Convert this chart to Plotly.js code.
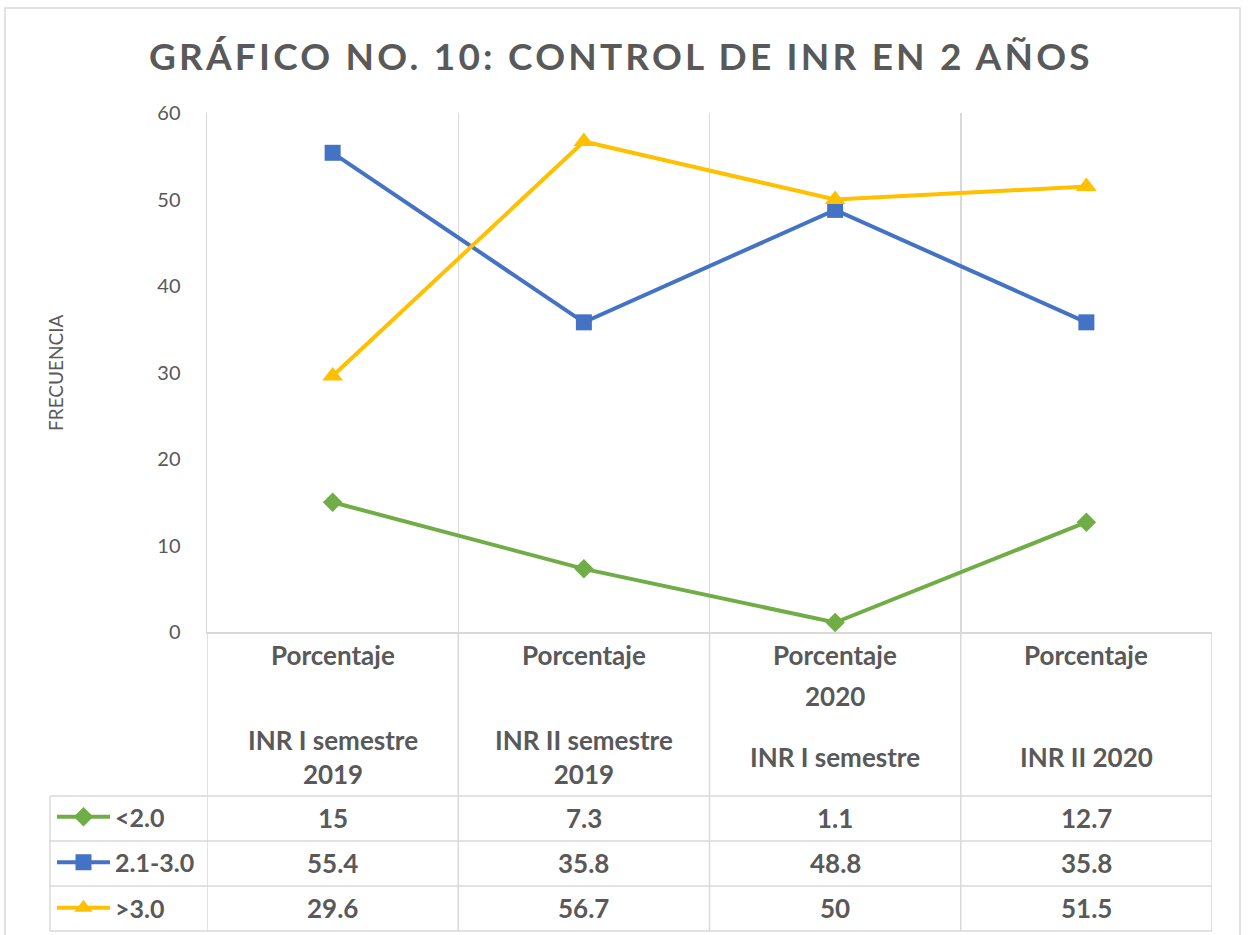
<!DOCTYPE html>
<html>
<head>
<meta charset="utf-8">
<script src="https://cdn.plot.ly/plotly-3.0.1.min.js"></script>
<style>html,body{margin:0;padding:0;background:#fff;}#chart{width:1248px;height:935px;}</style>
</head>
<body>
<div id="chart"></div>
<script>
// ---- data ----
const categories = ["INR I semestre 2019", "INR II semestre 2019", "INR I semestre 2020", "INR II 2020"];
const catTop = ["Porcentaje", "Porcentaje", "Porcentaje", "Porcentaje"];
const catYear = ["", "", "2020", ""];
const catBottom = ["INR I semestre<br>2019", "INR II semestre<br>2019", "INR I semestre", "INR II 2020"];
const seriesNames = ["<2.0", "2.1-3.0", ">3.0"];
const lowValues = [15, 7.3, 1.1, 12.7];
const midValues = [55.4, 35.8, 48.8, 35.8];
const highValues = [29.6, 56.7, 50, 51.5];
const yTicks = [0, 10, 20, 30, 40, 50, 60];

// ---- layout helpers (pixel geometry of the figure) ----
const W = 1248, H = 935;
const L = 207, R = 1212, T = 113, B = 632;
const pw = R - L, ph = B - T;
const px = x => (x - L) / pw;
const py = y => (B - y) / ph;
const grey = "#595959";
const lineCol = "#d9d9d9";
const FONT = "Lato, 'Open Sans', sans-serif";

const xIdx = categories.map((_, i) => i);
const allSeries = [lowValues, midValues, highValues];
const colors = ["#70AD47", "#4472C4", "#FFC000"];
const symbols = ["diamond", "square", "triangle-up"];
const sizes = [15, 16, 18];

const traces = allSeries.map((vals, k) => ({
  type: "scatter", mode: "lines+markers",
  x: xIdx, y: vals, name: seriesNames[k],
  legendgroup: "g" + k,
  line: {color: colors[k], width: 4},
  marker: {color: colors[k], symbol: symbols[k], size: sizes[k]},
  hoverinfo: "x+y+name"
}));

const shapes = [];
const annotations = [];
// outer border
shapes.push({type: "rect", xref: "paper", yref: "paper", x0: px(5), x1: px(1240), y0: py(942), y1: py(8),
  line: {color: lineCol, width: 1.5}, layer: "below"});
// table vertical lines
for (let i = 0; i <= categories.length; i++) {
  shapes.push({type: "line", xref: "x", yref: "paper", x0: i - 0.5, x1: i - 0.5, y0: 0, y1: py(931),
    line: {color: lineCol, width: 1.5}});
}
// table horizontal lines
[796, 841, 886, 931].forEach(y => shapes.push({type: "line", xref: "paper", yref: "paper",
  x0: px(50), x1: 1, y0: py(y), y1: py(y), line: {color: lineCol, width: 1.5}}));
shapes.push({type: "line", xref: "paper", yref: "paper", x0: px(50), x1: px(50), y0: py(796), y1: py(931),
  line: {color: lineCol, width: 1.5}});

const boldFont = {family: FONT, size: 26, color: grey, weight: "bold"};
// category labels
categories.forEach((c, i) => {
  annotations.push({xref: "x", yref: "paper", x: i, y: py(655), text: catTop[i], showarrow: false,
    yanchor: "middle", font: boldFont});
  if (catYear[i]) annotations.push({xref: "x", yref: "paper", x: i, y: py(696), text: catYear[i], showarrow: false,
    yanchor: "middle", font: boldFont});
  annotations.push({xref: "x", yref: "paper", x: i, y: py(757), text: catBottom[i], showarrow: false,
    yanchor: "middle", font: boldFont});
});
// table values
const rowY = [818, 863, 908];
allSeries.forEach((vals, k) => {
  vals.forEach((v, i) => annotations.push({xref: "x", yref: "paper", x: i, y: py(rowY[k]), text: String(v),
    showarrow: false, yanchor: "middle", font: boldFont}));
});
// y-axis title
annotations.push({xref: "paper", yref: "paper", x: px(55), y: py(373), text: "FRECUENCIA", textangle: -90,
  showarrow: false, xanchor: "center", yanchor: "middle", font: {family: FONT, size: 19, color: grey}});

const layout = {
  width: W, height: H,
  margin: {l: L, r: W - R, t: T, b: H - B, pad: 0},
  paper_bgcolor: "#fff", plot_bgcolor: "#fff",
  title: {text: '<span style="letter-spacing:3.2px">GRÁFICO NO. 10: CONTROL DE INR EN 2 AÑOS</span>',
    x: 0.4975, xref: "container", xanchor: "center", y: 1 - 57 / H, yref: "container", yanchor: "middle",
    font: {family: FONT, size: 37, color: grey, weight: "bold"}},
  xaxis: {range: [-0.5, categories.length - 0.5], tickvals: [-0.5, 0.5, 1.5, 2.5, 3.5], showticklabels: false,
    showgrid: true, gridcolor: lineCol, gridwidth: 1.5, zeroline: false, showline: true, linecolor: lineCol,
    linewidth: 1.5, ticks: "", fixedrange: true, automargin: false},
  yaxis: {range: [0, 60], tickvals: yTicks, showgrid: false, zeroline: false, showline: true, linecolor: lineCol,
    linewidth: 1.5, ticks: "", ticklabelstandoff: 21, tickfont: {family: FONT, size: 20, color: grey}, fixedrange: true,
    automargin: false},
  showlegend: true,
  legend: {xref: "container", yref: "container", x: 52 / W, xanchor: "left", y: 1 - 931 / H, yanchor: "bottom",
    traceorder: "grouped", tracegroupgap: 10,
    font: {family: FONT, size: 25, color: grey, weight: "bold"}, bgcolor: "rgba(0,0,0,0)", itemwidth: 53},
  shapes: shapes, annotations: annotations
};

Plotly.newPlot("chart", traces, layout, {displayModeBar: false, staticPlot: true});
</script>
</body>
</html>
